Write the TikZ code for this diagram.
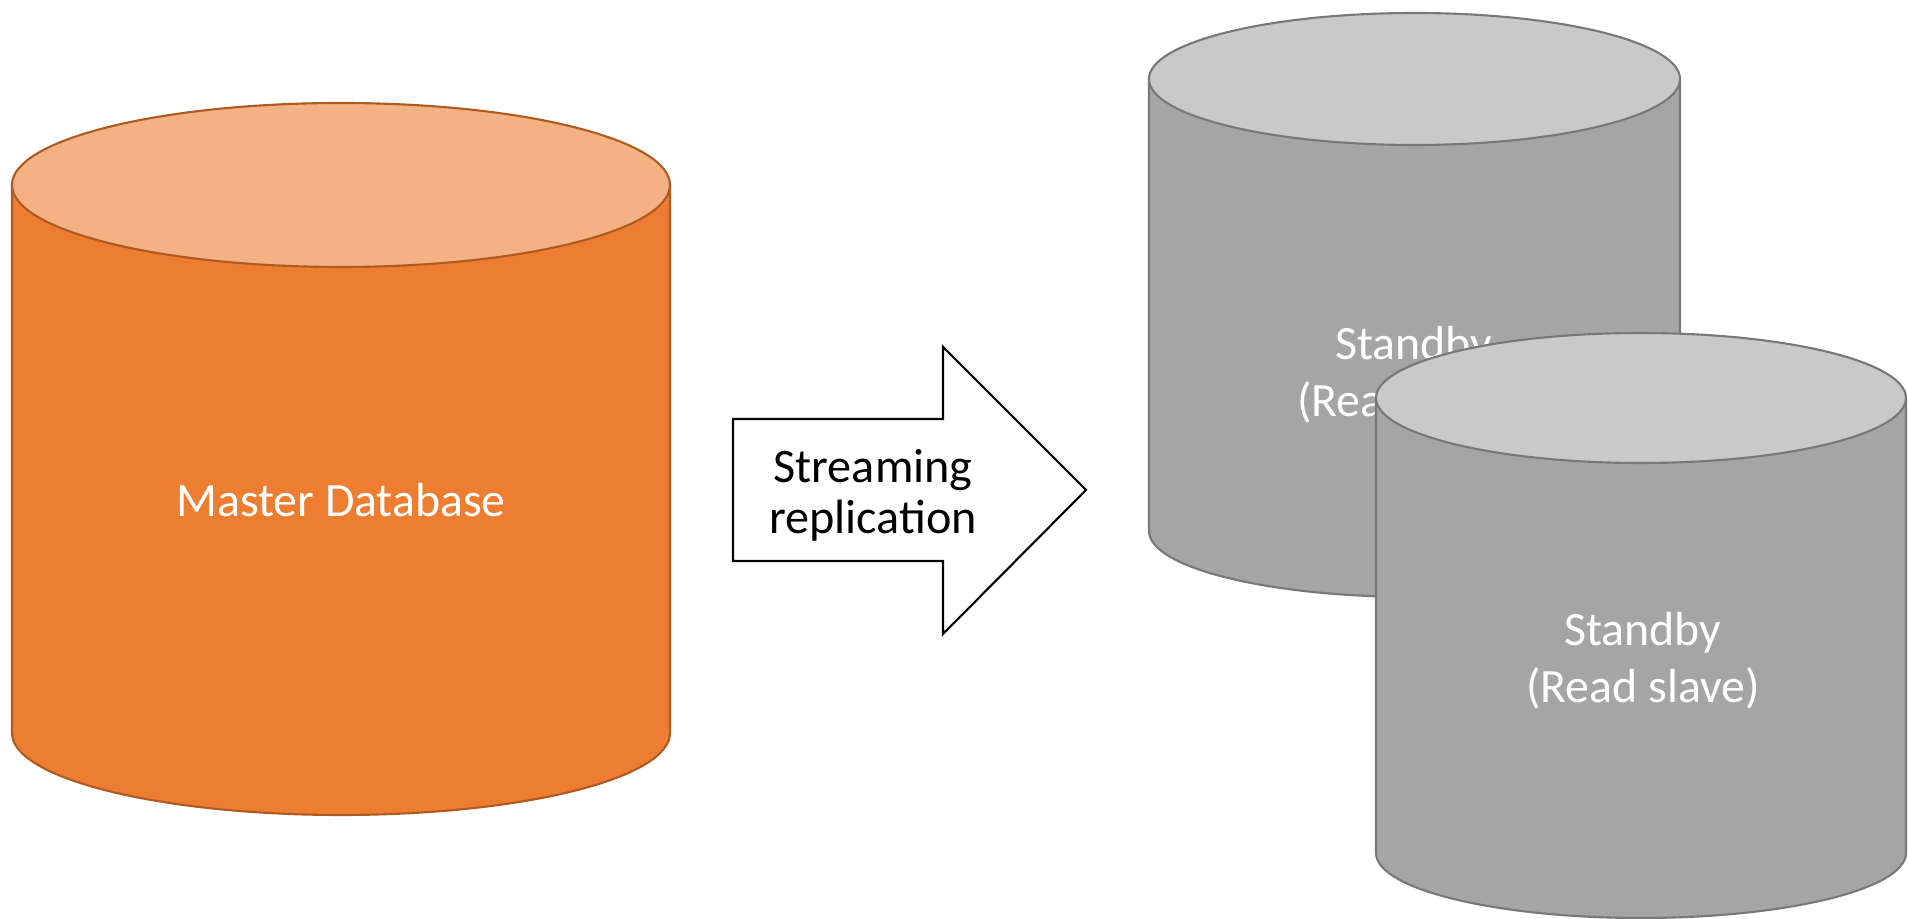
\documentclass[tikz,border=0pt]{standalone}
\usepackage{fontspec}
\setmainfont{Carlito}
\usepackage{xcolor}
\usepackage{tikz}
\usetikzlibrary{positioning, calc}

\definecolor{orangebody}{HTML}{ED7D31}
\definecolor{orangetop}{HTML}{F4B183}
\definecolor{orangeline}{HTML}{AE5A21}
\definecolor{graybody}{HTML}{A5A5A5}
\definecolor{graytop}{HTML}{C9C9C9}
\definecolor{grayline}{HTML}{787878}

\begin{document}
\begin{tikzpicture}[x=0.01cm, y=-0.01cm, line width=0.6pt,
  masterbody/.style={draw=orangeline, fill=orangebody},
  mastertop/.style={draw=orangeline, fill=orangetop},
  standbybody/.style={draw=grayline, fill=graybody},
  standbytop/.style={draw=grayline, fill=graytop},
  dblabel/.style={text=white, align=center, font=\fontsize{13.6}{16.2}\selectfont},
  arrowlabel/.style={text=black, align=center, font=\fontsize{13.7}{14.4}\selectfont}]

\useasboundingbox (0,0) rectangle (1908,919);

% Master database
\filldraw[masterbody] (12,185) -- (12,733)
  arc[start angle=180, end angle=0, x radius=329, y radius=82] -- (670,185) -- cycle;
\filldraw[mastertop] (341,185) ellipse[x radius=329, y radius=82];
\node[dblabel] (master) at (341,500) {Master Database};

% Streaming replication arrow
\filldraw[draw=black, fill=white] (733,419) -- (943,419) -- (943,347) -- (1086,490)
  -- (943,634) -- (943,561) -- (733,561) -- cycle;
\node[arrowlabel] (repl) at (873,495) {Streaming\\replication};

% Standby (back)
\filldraw[standbybody] (1149,79) -- (1149,531)
  arc[start angle=180, end angle=0, x radius=265.5, y radius=66] -- (1680,79) -- cycle;
\filldraw[standbytop] (1414.5,79) ellipse[x radius=265.5, y radius=66];
\node[dblabel] (standbyA) at (1414,375) {Standby\\(Read slave)};

% Standby (front)
\filldraw[standbybody] (1376,398) -- (1376,853)
  arc[start angle=180, end angle=0, x radius=265, y radius=65] -- (1906,398) -- cycle;
\filldraw[standbytop] (1641,398) ellipse[x radius=265, y radius=65];
\node[dblabel] (standbyB) at (1643,661) {Standby\\(Read slave)};

\end{tikzpicture}
\end{document}
